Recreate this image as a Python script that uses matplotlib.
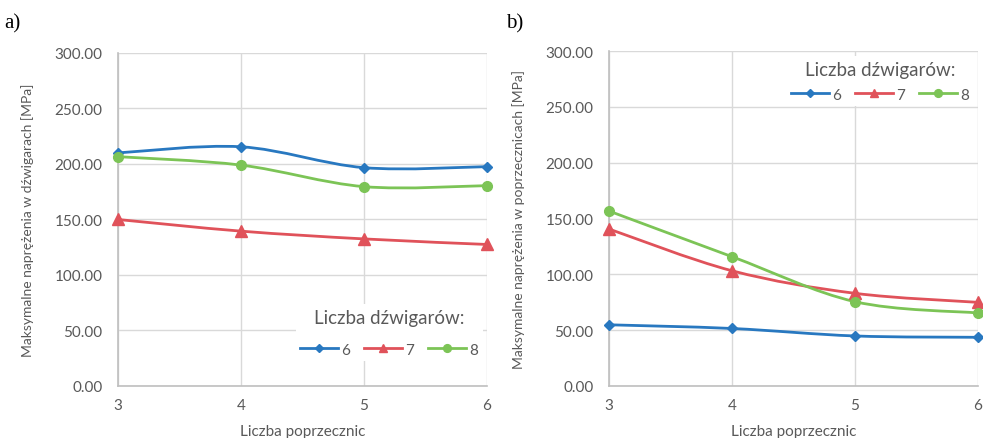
import numpy as np
import matplotlib.pyplot as plt
from matplotlib.path import Path
from matplotlib.patches import PathPatch

# Number of cross beams (x axis)
poprzecznice = [3, 4, 5, 6]

# a) max stress in main girders [MPa], per number of girders
dzw_6 = [210.0, 215.5, 196.7, 197.6]
dzw_7 = [150.0, 139.5, 132.5, 127.5]
dzw_8 = [206.6, 199.0, 179.6, 180.5]

# b) max stress in cross beams [MPa], per number of girders
pop_6 = [54.8, 51.5, 44.8, 43.6]
pop_7 = [140.6, 103.2, 83.0, 74.9]
pop_8 = [156.7, 115.8, 75.5, 65.4]

series_names = ['6', '7', '8']
colors = ['#2878c0', '#e0525a', '#7cc456']
markers = ['D', '^', 'o']
msizes = [5, 8, 7]

plt.rcParams['font.family'] = ['Lato', 'DejaVu Sans']
gray = '#595959'


def smooth_path(x, y):
    # Excel-style smoothed line: cubic Bezier segments with 1/6 tangents
    x = np.asarray(x, float)
    y = np.asarray(y, float)
    n = len(x)
    verts = [(x[0], y[0])]
    codes = [Path.MOVETO]
    for i in range(n - 1):
        i0 = max(i - 1, 0)
        i3 = min(i + 2, n - 1)
        c1 = (x[i] + (x[i + 1] - x[i0]) / 6, y[i] + (y[i + 1] - y[i0]) / 6)
        c2 = (x[i + 1] - (x[i3] - x[i]) / 6, y[i + 1] - (y[i3] - y[i]) / 6)
        verts += [c1, c2, (x[i + 1], y[i + 1])]
        codes += [Path.CURVE4] * 3
    return Path(verts, codes)


def draw_panel(ax, data, ylabel, legend_loc, legend_sep):
    for vals, name, c, m, ms in zip(data, series_names, colors, markers, msizes):
        ax.add_patch(PathPatch(smooth_path(poprzecznice, vals), fill=False,
                               edgecolor=c, lw=2.0, zorder=3, clip_on=False))
        ax.plot(poprzecznice, vals, ls='None', color=c, marker=m,
                markersize=ms, label=name, zorder=4, clip_on=False)

    ax.set_xlim(3, 6)
    ax.set_ylim(0, 300)
    ax.set_xticks(poprzecznice)
    ax.set_yticks(np.arange(0, 301, 50))
    ax.set_yticklabels([f'{v:.2f}' for v in np.arange(0, 301, 50)])
    ax.tick_params(length=0, colors=gray, labelsize=11)
    ax.tick_params(axis='y', pad=11)
    ax.tick_params(axis='x', pad=9)
    ax.grid(True, color='#d9d9d9', lw=1)
    ax.set_axisbelow(True)
    for s in ['top', 'right']:
        ax.spines[s].set_visible(False)
    for s in ['left', 'bottom']:
        ax.spines[s].set_color('#bfbfbf')
        ax.spines[s].set_linewidth(1.2)

    ax.set_xlabel('Liczba poprzecznic', color=gray, fontsize=11, labelpad=8)
    ax.set_ylabel(ylabel, color=gray, fontsize=10, labelpad=15)

    leg_handles = [plt.Line2D([], [], color=c, lw=2, marker=m, markersize=ms * 0.8)
                   for c, m, ms in zip(colors, markers, msizes)]
    leg = ax.legend(leg_handles, series_names, ncol=3, loc='center',
                    bbox_to_anchor=legend_loc, frameon=True, fancybox=False,
                    edgecolor='none', facecolor='white', framealpha=1,
                    title='Liczba dźwigarów:', title_fontsize=13.5, fontsize=11,
                    handlelength=2.5, handletextpad=0.2, columnspacing=0.9,
                    borderpad=0.3, labelspacing=0.2)
    for t in leg.get_texts():
        t.set_color(gray)
    leg.get_title().set_color(gray)
    leg._legend_box.sep = legend_sep


fig = plt.figure(figsize=(9.83, 4.39), dpi=100)
ax1 = fig.add_axes([0.120, 0.1185, 0.3754, 0.7585])
ax2 = fig.add_axes([0.6195, 0.1185, 0.3754, 0.763])

draw_panel(ax1, [dzw_6, dzw_7, dzw_8],
           'Maksymalne naprężenia w dźwigarach [MPa]', (0.735, 0.16), 12)
draw_panel(ax2, [pop_6, pop_7, pop_8],
           'Maksymalne naprężenia w poprzecznicach [MPa]', (0.735, 0.91), 7)

fig.text(0.004, 0.935, 'a)', family='Liberation Serif', fontsize=15)
fig.text(0.515, 0.935, 'b)', family='Liberation Serif', fontsize=15)

fig.savefig('out.png', dpi=100)
